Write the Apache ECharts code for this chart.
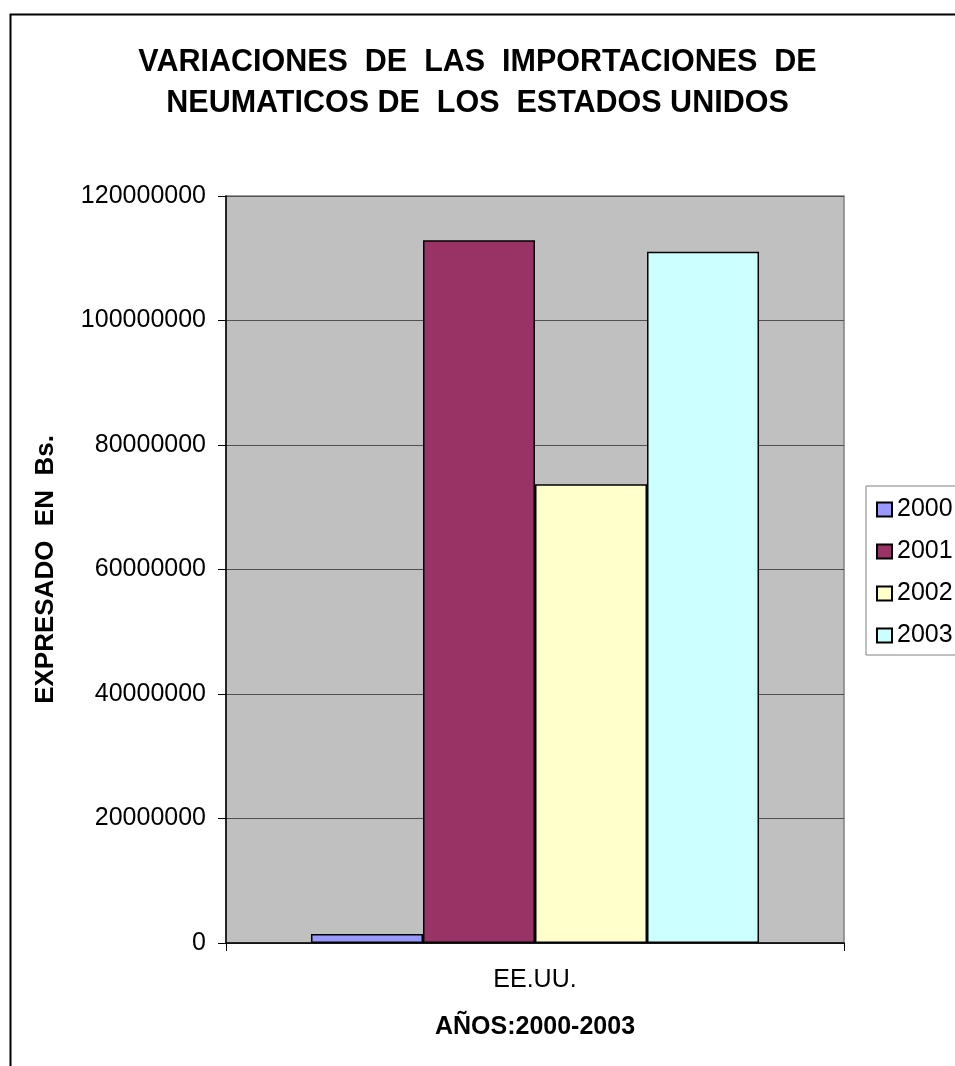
<!DOCTYPE html>
<html>
<head>
<meta charset="utf-8">
<title>Importaciones de neumáticos - EE.UU.</title>
<script src="https://cdn.jsdelivr.net/npm/echarts@6/dist/echarts.min.js"></script>
<style>
  html, body { margin: 0; padding: 0; background: #ffffff; }
  #chart { width: 955px; height: 1066px; }
</style>
</head>
<body>
<div id="chart"></div>
<script>
// Importaciones de neumáticos desde EE.UU., expresado en Bs.
const categories = ['EE.UU.'];
const years = ['2000', '2001', '2002', '2003'];
const values2000 = [1450000];
const values2001 = [112900000];
const values2002 = [73700000];
const values2003 = [111050000];
const yearColors = ['#9999FF', '#993366', '#FFFFCC', '#CCFFFF'];

const seriesValues = [values2000, values2001, values2002, values2003];
const FONT = '"Liberation Sans", Arial, sans-serif';

const chart = echarts.init(document.getElementById('chart'), null, { renderer: 'canvas' });

chart.setOption({
  backgroundColor: '#ffffff',
  animation: false,
  textStyle: { fontFamily: FONT, color: '#000' },
  title: {
    text: 'VARIACIONES  DE  LAS  IMPORTACIONES  DE\nNEUMATICOS DE  LOS  ESTADOS UNIDOS',
    left: 'center',
    top: 37,
    textStyle: {
      fontFamily: FONT,
      fontSize: 30.5,
      fontWeight: 'bold',
      color: '#000',
      lineHeight: 41
    }
  },
  legend: {
    orient: 'vertical',
    left: 866,
    top: 486,
    padding: [11, 40, 7, 10],
    itemWidth: 15,
    itemHeight: 14,
    itemGap: 17,
    icon: 'rect',
    borderColor: '#808080',
    borderWidth: 1,
    backgroundColor: '#ffffff',
    textStyle: { fontFamily: FONT, fontSize: 25, color: '#000' },
    data: years
  },
  grid: {
    left: 226,
    right: 111,
    top: 196,
    bottom: 123,
    show: true,
    backgroundColor: '#C0C0C0',
    borderColor: '#808080',
    borderWidth: 1.5
  },
  xAxis: {
    type: 'category',
    data: categories,
    name: 'AÑOS:2000-2003',
    nameLocation: 'middle',
    nameGap: 72,
    nameTextStyle: { fontFamily: FONT, fontSize: 25, fontWeight: 'bold', color: '#000' },
    axisLine: { show: true, lineStyle: { color: '#000', width: 1.5 } },
    axisTick: { show: true, length: 8, lineStyle: { color: '#000', width: 1 } },
    axisLabel: { fontFamily: FONT, fontSize: 25, color: '#000', margin: 25 },
    splitLine: { show: false }
  },
  yAxis: {
    type: 'value',
    min: 0,
    max: 120000000,
    interval: 20000000,
    name: 'EXPRESADO  EN  Bs.',
    nameLocation: 'middle',
    nameGap: 167,
    nameRotate: 90,
    nameTextStyle: { fontFamily: FONT, fontSize: 26, fontWeight: 'bold', color: '#000' },
    axisLine: { show: true, lineStyle: { color: '#000', width: 1.5 } },
    axisTick: { show: true, length: 8, lineStyle: { color: '#000', width: 1 } },
    axisLabel: {
      fontFamily: FONT,
      fontSize: 25,
      color: '#000',
      margin: 20,
      formatter: v => String(v)
    },
    splitLine: { show: true, lineStyle: { color: '#505050', width: 1 } }
  },
  series: years.map((y, i) => ({
    name: y,
    type: 'bar',
    data: seriesValues[i],
    barGap: '0%',
    barCategoryGap: '27.5%',
    itemStyle: {
      color: yearColors[i],
      borderColor: '#000',
      borderWidth: 1.5
    }
  })),
  graphic: [{
    type: 'rect',
    left: 8,
    top: 12,
    shape: { width: 980, height: 1100 },
    style: { fill: 'none', stroke: '#000', lineWidth: 2 },
    silent: true,
    z: 100
  }]
});
</script>
</body>
</html>
